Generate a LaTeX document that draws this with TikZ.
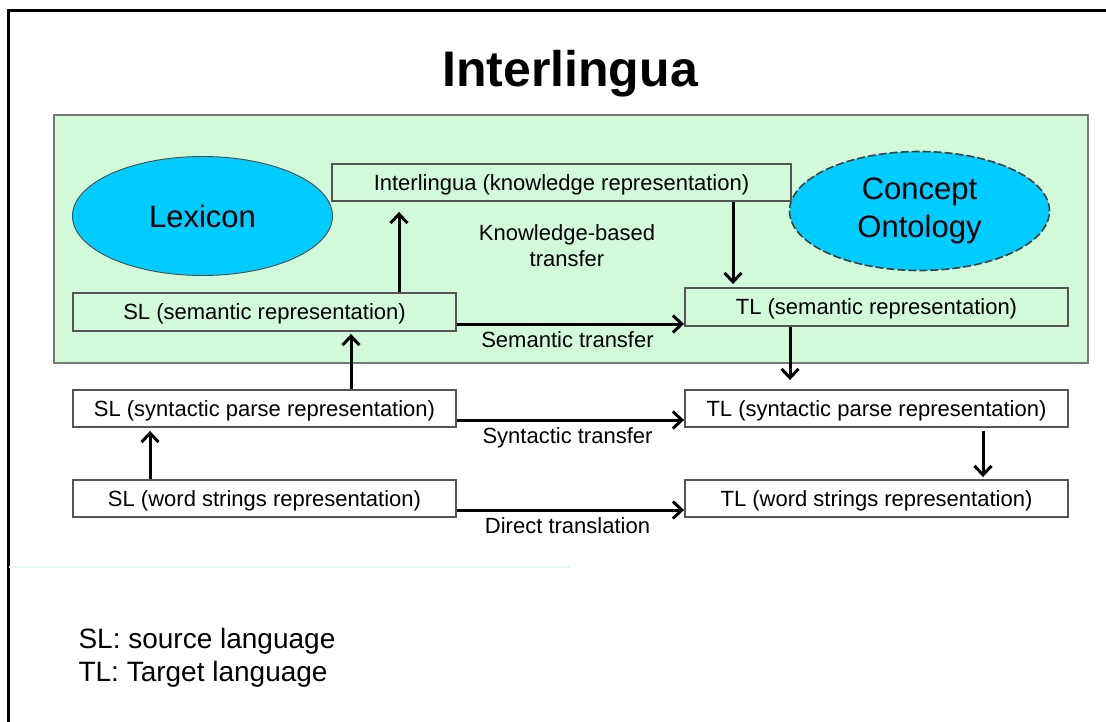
\documentclass[tikz,border=0pt]{standalone}
\usepackage{fontspec}
\setmainfont{Liberation Sans}
\usetikzlibrary{arrows.meta,shapes.geometric}
\definecolor{panelgreen}{RGB}{211,250,216}
\definecolor{blobcyan}{RGB}{0,204,255}
\definecolor{boxgray}{RGB}{85,85,85}
\definecolor{fadeline}{RGB}{226,248,248}
\begin{document}
\begin{tikzpicture}[x=1pt,y=-1pt,
	repbox/.style={draw=boxgray,line width=1.9pt,rectangle,minimum width=383pt,minimum height=37pt,inner sep=0pt,text depth=0pt,font=\fontsize{22}{26}\selectfont},
	blob/.style={ellipse,fill=blobcyan,draw=black!70,line width=0.9pt,inner sep=0pt,minimum width=260pt,minimum height=119pt,font=\fontsize{31}{38}\selectfont,align=center},
	arr/.style={line width=3pt,-{Straight Barb[length=9pt,width=17pt]}},
	lab/.style={font=\fontsize{22}{26}\selectfont,align=center}]
	\useasboundingbox (0,0) rectangle (1106,722);
	\fill[white] (0,0) rectangle (1106,722);
	\draw[line width=2.8pt] (8.7,722) -- (8.7,10.7) -- (1106,10.7);
	\node[anchor=base,font=\fontsize{50}{60}\selectfont\bfseries] (title) at (570,87) {Interlingua};
	\draw[fill=panelgreen,draw=boxgray!80,line width=2.2pt] (54,115) rectangle (1088,363);
	\draw[fadeline,line width=2pt] (9,566.5) -- (570,566.5);
	\node[blob] (lex) at (202.5,216) {Lexicon};
	\node[blob,draw=black!75,dash pattern=on 8pt off 3pt,line width=1.6pt] (onto) at (919.5,211) {Concept\\Ontology};
	\node[repbox,minimum width=459pt] (ilbox) at (561.5,182.5) {Interlingua (knowledge representation)};
	\node[repbox,minimum height=38pt] (slsem) at (264.5,312) {SL (semantic representation)};
	\node[repbox,minimum height=38pt] (tlsem) at (876.5,307) {TL (semantic representation)};
	\node[repbox] (slsyn) at (264.5,408.5) {SL (syntactic parse representation)};
	\node[repbox] (tlsyn) at (876.5,408.5) {TL (syntactic parse representation)};
	\node[repbox] (slword) at (264.5,498.5) {SL (word strings representation)};
	\node[repbox] (tlword) at (876.5,498.5) {TL (word strings representation)};
	\node[lab] (kbt) at (567,246) {Knowledge-based\\transfer};
	\coordinate (a1) at ([xshift=134.5pt]slsem.north);
	\coordinate (a2) at ([xshift=171.5pt]ilbox.south);
	\coordinate (a3) at ([yshift=-12pt]slsem.east);
	\coordinate (a4) at ([xshift=-86.5pt]tlsem.south);
	\coordinate (a5) at ([xshift=86.5pt]slsyn.north);
	\coordinate (a6) at ([yshift=-11.5pt]slsyn.east);
	\coordinate (a7) at ([xshift=-114.5pt]slword.north);
	\coordinate (a8) at ([xshift=106.5pt]tlsyn.south);
	\coordinate (a9) at ([yshift=-11.5pt]slword.east);
	\draw[arr,shorten >=10pt] (a1) -- (a1 |- ilbox.south);
	\draw[arr,shorten >=3pt] (a2) -- (a2 |- tlsem.north);
	\draw[arr] (a3) -- (a3 -| tlsem.west) node[lab,midway,below=3pt,xshift=-3pt] (semt) {Semantic transfer};
	\draw[arr,shorten >=9pt] (a4) -- (a4 |- tlsyn.north);
	\draw[arr,shorten >=2pt] (a5) -- (a5 |- slsem.south);
	\draw[arr] (a6) -- (a6 -| tlsyn.west) node[lab,midway,below=3pt,xshift=-3pt] (synt) {Syntactic transfer};
	\draw[arr,shorten >=3pt] (a7) -- (a7 |- slsyn.south);
	\draw[arr,shorten <=3pt,shorten >=2pt] (a8) -- (a8 |- tlword.north);
	\draw[arr] (a9) -- (a9 -| tlword.west) node[lab,midway,below=3pt,xshift=-3pt] (dirt) {Direct translation};
	\node[anchor=base west,font=\fontsize{28}{33}\selectfont] (slkey) at (75,648) {SL: source language};
	\node[anchor=base west,font=\fontsize{28}{33}\selectfont] (tlkey) at (75,681) {TL: Target language};
\end{tikzpicture}
\end{document}
